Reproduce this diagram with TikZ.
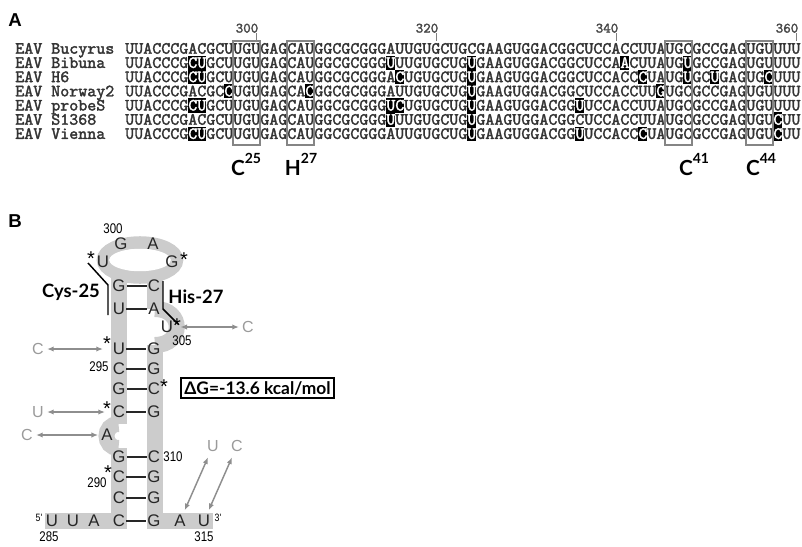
\documentclass[tikz,border=0pt]{standalone}
\usepackage{fontspec}
\usetikzlibrary{arrows.meta}
\newfontfamily\ntfont{Liberation Sans}
\newfontfamily\labfont{Lato}
\newfontfamily\narrowfont{Liberation Sans}[FakeStretch=0.82]
\newfontfamily\seqfamily{lmmono10-regular.otf}[FakeBold=2]
\definecolor{bandgray}{HTML}{CCCCCC}
\definecolor{basecol}{HTML}{262626}
\definecolor{seqcol}{HTML}{333333}
\definecolor{boxgray}{HTML}{858585}
\definecolor{subgray}{HTML}{9A9A9A}
\definecolor{arrowgray}{HTML}{8E8E8E}
\newcommand{\seqfont}{\seqfamily\fontsize{12.86}{14}\selectfont}
\newcommand{\resup}[1]{\raisebox{9pt}{\fontsize{10.5}{12}\selectfont #1}}
\newcommand{\wh}[1]{\textcolor{white}{#1}}

\tikzset{
  panel/.style={font=\ntfont\bfseries\fontsize{14}{16}\selectfont, inner sep=0},
  strain/.style={font=\seqfont, text=seqcol, anchor=base west, inner sep=0,
    text height=7.9pt, text depth=0pt},
  seqrow/.style={font=\seqfont, text=seqcol, anchor=base west, inner sep=0},
  regbox/.style={draw=boxgray, line width=0.9pt},
  tick/.style={draw=gray, line width=0.8pt},
  ticklab/.style={font=\seqfamily\fontsize{10.7}{12}\selectfont, text=seqcol!90,
    anchor=south east, inner sep=0},
  reslab/.style={font=\labfont\bfseries\fontsize{15.6}{18}\selectfont, anchor=base, inner sep=0},
  strand/.style={draw=bandgray, line width=12pt},
  loopring/.style={draw=bandgray, line width=9.4pt},
  nt/.style={font=\ntfont\fontsize{12.6}{14}\selectfont, text=basecol, inner sep=0.75pt},
  bondline/.style={draw=basecol, line width=1.1pt},
  asterisk/.style={font=\ntfont\fontsize{15}{16}\selectfont, anchor=north, inner sep=0},
  subnt/.style={font=\ntfont\fontsize{12}{14}\selectfont, text=subgray, inner sep=2.25pt},
  subarrow/.style={draw=arrowgray, line width=1.1pt,
    {Latex[length=5pt,width=4pt]}-{Latex[length=5pt,width=4pt]}},
  numlab/.style={font=\narrowfont\fontsize{10.5}{12}\selectfont, inner sep=0},
  boldlab/.style={font=\labfont\bfseries\fontsize{13.8}{16}\selectfont, inner sep=0},
  bracket/.style={draw=black, line width=1.1pt}
}

\begin{document}
\begin{tikzpicture}[x=0.75pt,y=-0.75pt]
  \useasboundingbox (0,0) rectangle (802,546);

  % Panel A: alignment
  \node[panel] (panelA) at (15,20) {A};

  \foreach \p in {300,320,340,360}{
    \draw[tick] ({130.5+9*(\p-286)},33) -- ++(0,8);
    \node[ticklab] (tick\p) at ({132.5+9*(\p-286)},33) {\p};
  }

  % substitutions
  \foreach \r/\i in {1/7,1/8,1/29,1/38,1/55,1/62,
      2/7,2/8,2/30,2/38,2/57,2/62,2/65,2/71,
      3/11,3/20,3/38,3/59,
      4/7,4/8,4/29,4/30,4/38,4/50,
      5/29,5/38,5/72,
      6/7,6/8,6/38,6/50,6/57,6/72}
    \fill[black] ({124.9+9*\i},{41.3+14.2*\r}) rectangle ++(9.2,14.4);

  \foreach \r/\name/\seq in {
    0/Bucyrus/UUACCCGACGCUUGUGAGCAUGGCGCGGGAUUGUGCUGCGAAGUGGACGGCUCCACCUUAUGCGCCGAGUGUUUU,
    1/Bibuna/UUACCCG\wh{CU}GCUUGUGAGCAUGGCGCGGG\wh{U}UUGUGCUG\wh{U}GAAGUGGACGGCUCCA\wh{A}CUUAUG\wh{U}GCCGAGUGUUUU,
    2/H6/UUACCCG\wh{CU}GCUUGUGAGCAUGGCGCGGGA\wh{C}UGUGCUG\wh{U}GAAGUGGACGGCUCCACC\wh{C}UAUG\wh{U}GC\wh{U}GAGUG\wh{C}UUU,
    3/Norway2/UUACCCGACGC\wh{C}UGUGAGCA\wh{C}GGCGCGGGAUUGUGCUG\wh{U}GAAGUGGACGGCUCCACCUU\wh{G}UGCGCCGAGUGUUUU,
    4/probeS/UUACCCG\wh{CU}GCUUGUGAGCAUGGCGCGGG\wh{UC}UGUGCUG\wh{U}GAAGUGGACGG\wh{U}UCCACCUUAUGCGCCGAGUGUUUU,
    5/S1368/UUACCCGACGCUUGUGAGCAUGGCGCGGG\wh{U}UUGUGCUG\wh{U}GAAGUGGACGGCUCCACCUUAUGCGCCGAGUGU\wh{C}UU,
    6/Vienna/UUACCCG\wh{CU}GCUUGUGAGCAUGGCGCGGGAUUGUGCUG\wh{U}GAAGUGGACGG\wh{U}UCCACC\wh{C}UAUGCGCCGAGUGU\wh{C}UU}{
    \node[strain] (strain-\name) at (15,{53.7+14.2*\r}) {EAV \name};
    \node[seqrow] (seq-\name) at (125,{53.7+14.2*\r}) {\seq};
  }

  % catalytic residues
  \foreach \a in {12,18,60,69}
    \draw[regbox] ({125+9*\a},41) rectangle ++(27,104);
  \foreach \lab/\num/\x in {C/25/246,H/27/301,C/41/694,C/44/761}
    \node[reslab] (res\lab\num) at (\x,175) {\lab\resup{\num}};

  % Panel B: stem-loop
  \node[panel] (panelB) at (15,221) {B};

  % backbone
  \draw[strand] (118.5,260) -- (118.5,424);
  \draw[strand] (118.5,424) .. controls (102.5,424) and (102.5,448) .. (118.5,448);
  \draw[strand] (118.5,448) -- (118.5,521) -- (45,521);
  \draw[strand] (155,260) -- (155,309);
  \draw[strand] (155,309) .. controls (184,309) and (184,345) .. (155,345);
  \draw[strand] (155,345) -- (155,521) -- (213,521);
  \draw[loopring] (140,260) ellipse [x radius=37, y radius=17.5];
  \fill[white] (140,260) ellipse [x radius=30.7, y radius=11.2];

  % nucleotides
  \foreach \n/\x/\y/\b in {
      285/52/521/U, 286/73/521/U, 287/94/521/A, 288/119/521/C,
      289/119/498/C, 290/119/477/C, 291/119/457/G, 292/107/435/A,
      293/119/412/C, 294/119/389/G, 295/119/369/C, 296/119/349/U,
      297/119/309/U, 298/119/286/G, 299/103/262/U, 300/121/244/G,
      301/153/244/A, 302/172/262/G, 303/154/286/C, 304/154/309/A,
      305/167/327/U, 306/154/349/G, 307/154/369/G, 308/154/389/C,
      309/154/412/G, 310/154/457/C, 311/154/477/G, 312/154/498/G,
      313/154/521/G, 314/180/521/A, 315/204/521/U}
    \node[nt] (n\n) at (\x,\y) {\b};

  % base pairs
  \foreach \a/\b in {298/303,297/304,296/306,295/307,294/308,293/309,
      291/310,290/311,289/312,288/313}
    \draw[bondline] (n\a) -- (n\b);

  \foreach \n/\x/\y in {299/91/251,302/184/252,305/177/318,296/107/336,
      308/164/379,293/107/401,290/108/465}
    \node[asterisk] (st\n) at (\x,\y) {*};

  % numbering
  \node[numlab] (lab300) at (113,229) {300};
  \node[numlab] (lab305) at (182,341) {305};
  \node[numlab] (lab295) at (99,367) {295};
  \node[numlab] (lab310) at (173,457) {310};
  \node[numlab] (lab290) at (97,483) {290};
  \node[numlab] (lab285) at (49,537) {285};
  \node[numlab] (lab315) at (204,537) {315};
  \node[numlab, font=\narrowfont\fontsize{8}{9}\selectfont] (end5) at (39,518) {5'};
  \node[numlab, font=\narrowfont\fontsize{8}{9}\selectfont] (end3) at (218,518) {3'};

  % variant positions
  \foreach \n/\x/\y/\b in {305/248/327/C, 296/38/349/C, 293/38/412/U,
      292/27/435/C, 314/213/446/U, 315/237/446/C}
    \node[subnt] (sub\n) at (\x,\y) {\b};
  \draw[subarrow, shorten >=4.5pt] (sub305) -- (n305);
  \draw[subarrow, shorten >=6.5pt] (sub296) -- (n296);
  \draw[subarrow, shorten >=5pt] (sub293) -- (n293);
  \draw[subarrow, shorten >=1.5pt] (sub292) -- (n292);
  \draw[subarrow, shorten <=2pt, shorten >=3pt] (sub314) -- (n314);
  \draw[subarrow, shorten <=2pt, shorten >=3pt] (sub315) -- (n315);

  % Labels
  \draw[bracket] (88,263) -- (108,285) -- (108,315);
  \draw[bracket] (163,281) -- (163,309) -- (178,324);
  \node[boldlab] (cys) at (71,292) {Cys-25};
  \node[boldlab] (his) at (196,297) {His-27};
  \node[boldlab, font=\labfont\bfseries\fontsize{13}{15}\selectfont, draw, line width=1pt,
    inner xsep=2.5pt, minimum height=15pt] (dG) at (257.5,388) {ΔG=-13.6 kcal/mol};
\end{tikzpicture}
\end{document}
